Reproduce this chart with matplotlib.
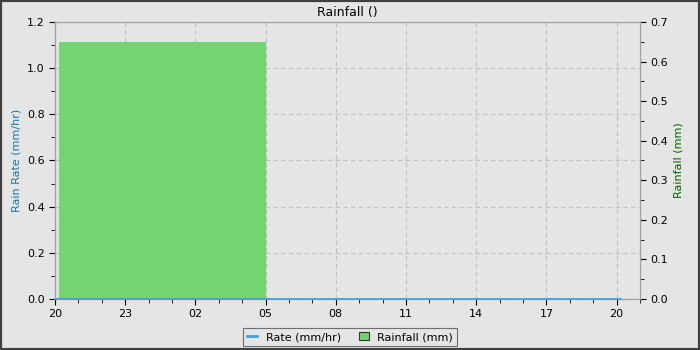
import matplotlib
matplotlib.use("Agg")
import matplotlib.pyplot as plt
import matplotlib.dates as mdates
from matplotlib.ticker import MultipleLocator, FormatStrFormatter
from matplotlib.patches import Rectangle
from matplotlib.lines import Line2D
from datetime import datetime

# ---- data ----
rate_times = [datetime(2024, 1, 1, 20, 0), datetime(2024, 1, 2, 20, 10)]
rate_values = [0.0, 0.0]
rain_start = [datetime(2024, 1, 1, 20, 10)]
rain_end = [datetime(2024, 1, 2, 5, 0)]
rain_values = [0.65]
x_start = datetime(2024, 1, 1, 20, 0)
x_end = datetime(2024, 1, 2, 21, 0)

BG = "#e5e5e5"
RATE_C = "#4a9fd8"
RAIN_C = "#72d572"
plt.rcParams["font.family"] = "DejaVu Sans"
fig = plt.figure(figsize=(7, 3.5), dpi=100, facecolor=BG)
ax = fig.add_axes([55/700, 51/350, 585/700, 277/350])
ax.set_facecolor(BG)
ax2 = ax.twinx()
ax2.patch.set_visible(False)

# left axis (rate) setup, grid drawn behind the bars
ax.set_xlim(mdates.date2num(x_start), mdates.date2num(x_end))
ax.set_ylim(0, 1.2)
ax.yaxis.set_major_locator(MultipleLocator(0.2))
ax.yaxis.set_minor_locator(MultipleLocator(0.1))
ax.yaxis.set_major_formatter(FormatStrFormatter("%.1f"))
ax.set_ylabel("Rain Rate (mm/hr)", color="#1a74b4", fontsize=8)
ax.xaxis.set_major_locator(mdates.HourLocator(byhour=range(2, 24, 3)))
ax.xaxis.set_minor_locator(mdates.HourLocator())
ax.xaxis.set_major_formatter(mdates.DateFormatter("%H"))
ax.grid(True, which="major", color="#c0c0c0", linestyle=(0, (4, 3)), lw=0.8)

# rain bars on right axis
starts = mdates.date2num(rain_start)
ends = mdates.date2num(rain_end)
ax2.bar(starts, rain_values, width=ends - starts, align="edge",
        color=RAIN_C, edgecolor="none", zorder=2)
ax2.set_ylim(0, 0.7)
ax2.yaxis.set_major_locator(MultipleLocator(0.1))
ax2.yaxis.set_minor_locator(MultipleLocator(0.05))
ax2.yaxis.set_major_formatter(FormatStrFormatter("%.1f"))
ax2.set_ylabel("Rainfall (mm)", color="#006400", fontsize=8)

# rate line on top of the bars, in left-axis coordinates
ax2.plot(mdates.date2num(rate_times), rate_values, color=RATE_C, lw=1.3,
         zorder=3, clip_on=False, transform=ax.transData)

for a in (ax, ax2):
    a.tick_params(which="both", labelsize=8, color="black", direction="out")
    a.tick_params(which="major", length=4)
    a.tick_params(which="minor", length=3)
    for s in a.spines.values():
        s.set_color("#a0a0a0")

ax.set_title("Rainfall ()", fontsize=9, pad=4)

handles = [Line2D([0], [0], color=RATE_C, lw=2),
           Rectangle((0, 0), 1, 1, facecolor=RAIN_C, edgecolor="#333333", lw=0.8)]
leg = fig.legend(handles, ["Rate (mm/hr)", "Rainfall (mm)"], loc="center",
                 bbox_to_anchor=(350/700, 1 - 337/350), ncol=2, fontsize=8,
                 frameon=True, fancybox=False, framealpha=1, facecolor=BG,
                 edgecolor="#707070", handlelength=0.9, handleheight=0.8,
                 handletextpad=0.8, columnspacing=1.6, borderpad=0.35)
leg.get_frame().set_linewidth(0.8)

fig.patches.append(Rectangle((0, 0), 1, 1, transform=fig.transFigure, fill=False,
                             edgecolor="#404040", lw=3, zorder=10))
fig.savefig("out.png", dpi=100, facecolor=BG)
